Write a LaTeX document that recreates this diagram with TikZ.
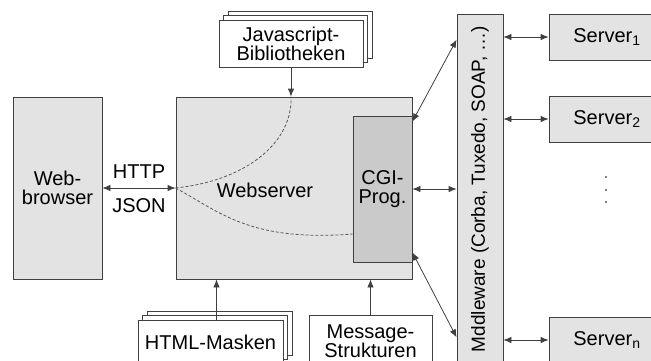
\documentclass[tikz,border=0pt]{standalone}
\usepackage{fontspec}
\setmainfont{Liberation Sans}
\usetikzlibrary{arrows.meta,shadows}
\definecolor{boxgray}{HTML}{E3E3E3}
\definecolor{cgigray}{HTML}{CACACA}
\definecolor{linegray}{HTML}{404040}
\tikzset{box/.style={draw=linegray,fill=boxgray,thick,inner sep=0pt,align=center},
stack/.style={draw=linegray,fill=white,thick,inner sep=0pt,align=center,double copy shadow={shadow xshift=4.5pt,shadow yshift=4.5pt,fill=white,draw=linegray,thick}},
link/.style={<->,thick,draw=linegray}}

\begin{document}
\begin{tikzpicture}[x=1pt,y=-1pt,>={Latex[length=8pt,width=6.5pt]},font=\fontsize{20}{19}\selectfont]
\useasboundingbox (0,0) rectangle (651,360);
\node[box,minimum width=89pt,minimum height=182pt] (browser) at (57.5,188) {Web-\\browser};
\node[box,minimum width=236pt,minimum height=182pt] (webserver) at (294,188) {};
\node (wslabel) at (265,190) {Webserver};
\node[box,fill=cgigray,minimum width=59pt,minimum height=146pt] (cgi) at (382.5,189) {CGI-\\Prog.};
\node[stack,minimum width=144pt,minimum height=47pt] (js) at (291,43.5) {Javascript-\\Bibliotheken};
\node[stack,minimum width=145pt,minimum height=44pt] (html) at (210.5,342) {HTML-Masken};
\node[box,fill=white,minimum width=123pt,minimum height=52pt] (msg) at (370.5,341) {Message-\\Strukturen};
\node[box,minimum width=46pt,minimum height=362pt] (mw) at (480,195) {};
\node[rotate=90,font=\fontsize{19}{19}\selectfont] (mwlabel) at (480,189) {Mddleware (Corba, Tuxedo, SOAP, \dots)};
\node[box,minimum width=116pt,minimum height=46pt] (s1) at (607,37) {Server\textsubscript{1}};
\node[box,minimum width=116pt,minimum height=46pt] (s2) at (607,119) {Server\textsubscript{2}};
\node[box,minimum width=116pt,minimum height=46pt] (sn) at (607,340) {Server\textsubscript{n}};
\foreach \y in {177,190,202}{\fill (606,\y) circle (0.8pt);}
% Verbindungen
\draw[link](browser.east)--node[above=6pt,text=black](http){HTTP}node[below=7pt,text=black](json){JSON}(webserver.west);
\draw[->,thick,linegray](js.south)--(js.south|-webserver.north);
\draw[->,thick,linegray]([xshift=6pt]html.north)--([xshift=6pt]html.north|-webserver.south);
\draw[->,thick,linegray](msg.north)--(msg.north|-webserver.south);
\draw[link](cgi.east)--(cgi.east-|mw.west);
\draw[link]([yshift=-6pt]cgi.north east)--([yshift=-26pt]mw.north west);
\draw[link]([yshift=10pt]cgi.south east)--([yshift=39pt]mw.south west);
\draw[link](s1.west)--(s1.west-|mw.east);
\draw[link](s2.west)--(s2.west-|mw.east);
\draw[link](sn.west)--(sn.west-|mw.east);
\draw[densely dashed,thick,black!65](webserver.west)..controls(250,180)and(293,140)..(js.south|-webserver.north);
\draw[densely dashed,thick,black!65](webserver.west)..controls(220,212)and(250,242)..(cgi.west|-0,234);
\end{tikzpicture}
\end{document}
